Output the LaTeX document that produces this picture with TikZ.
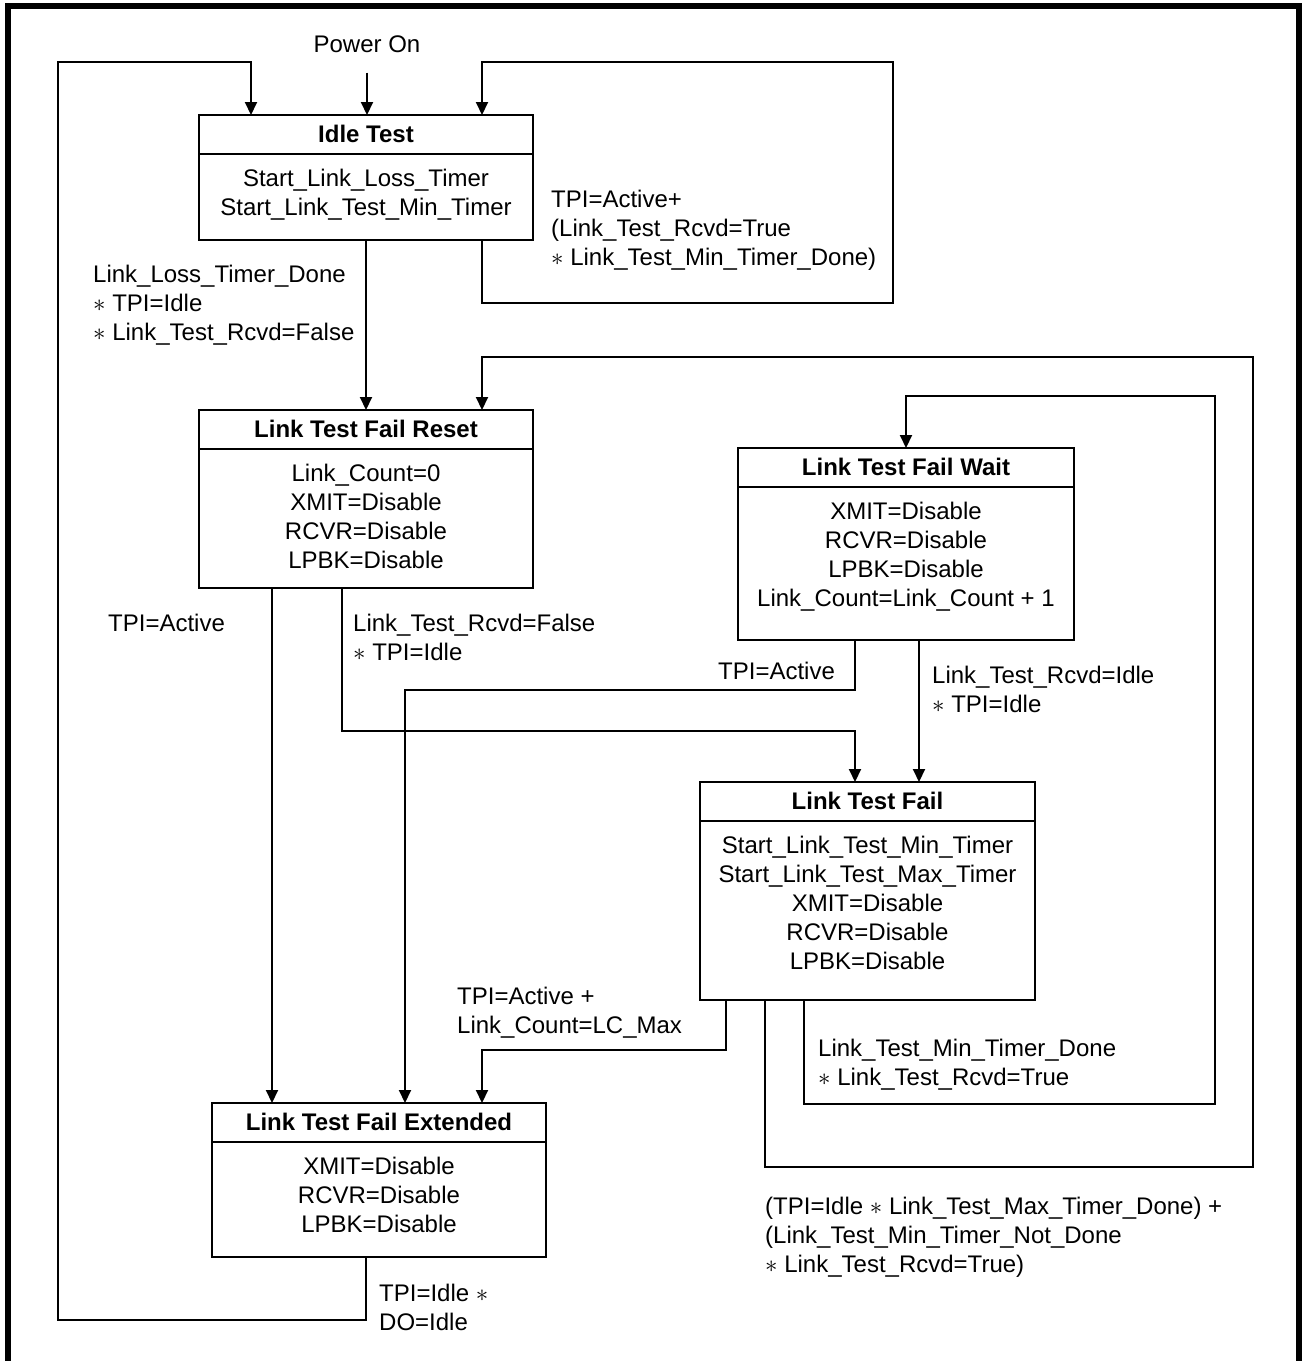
\documentclass[tikz,border=0pt]{standalone}
\usepackage{fontspec}
\setmainfont{Liberation Sans}
\usetikzlibrary{arrows.meta}

\begin{document}
\begin{tikzpicture}[x=1pt, y=-1pt,
    every node/.style={inner sep=0pt, font=\fontsize{24}{29}\selectfont},
    statebox/.style={draw, line width=2pt, outer sep=0pt, anchor=north west},
    titletxt/.style={font=\fontsize{24}{29}\selectfont\bfseries},
    bodytxt/.style={align=center, anchor=north},
    cond/.style={align=left, anchor=north west},
    wire/.style={line width=2pt},
    arrow/.style={wire, -{Triangle[length=13pt, width=12pt]}}]
\useasboundingbox (0,0) rectangle (1303,1361);
% Draw frame
\draw[line width=6pt] (8,1361) -- (8,6) -- (1299,6) -- (1299,1361);
% Draw states
\node[statebox, minimum width=334pt, minimum height=125pt] (idle) at (199,115) {};
\node[statebox, minimum width=334pt, minimum height=178pt] (reset) at (199,410) {};
\node[statebox, minimum width=336pt, minimum height=192pt] (wait) at (738,448) {};
\node[statebox, minimum width=335pt, minimum height=218pt] (fail) at (700,782) {};
\node[statebox, minimum width=334pt, minimum height=154pt] (ext) at (212,1103) {};
\foreach \s/\t in {idle/Idle Test, reset/Link Test Fail Reset, wait/Link Test Fail Wait,
    fail/Link Test Fail, ext/Link Test Fail Extended} {
  \node[titletxt] (\s-title) at ([yshift=-19pt]\s.north) {\t};
  \draw[wire] ([yshift=-39pt]\s.north west) -- ([yshift=-39pt]\s.north east);
}
\node[bodytxt] (idle-body) at ([yshift=-54pt]idle.north)
  {Start\_Link\_Loss\_Timer\\Start\_Link\_Test\_Min\_Timer};
\node[bodytxt] (reset-body) at ([yshift=-54pt]reset.north)
  {Link\_Count=0\\XMIT=Disable\\RCVR=Disable\\LPBK=Disable};
\node[bodytxt] (wait-body) at ([yshift=-54pt]wait.north)
  {XMIT=Disable\\RCVR=Disable\\LPBK=Disable\\Link\_Count=Link\_Count + 1};
\node[bodytxt] (fail-body) at ([yshift=-54pt]fail.north)
  {Start\_Link\_Test\_Min\_Timer\\Start\_Link\_Test\_Max\_Timer\\XMIT=Disable\\RCVR=Disable\\LPBK=Disable};
\node[bodytxt] (ext-body) at ([yshift=-54pt]ext.north)
  {XMIT=Disable\\RCVR=Disable\\LPBK=Disable};
% Power on
\node (power) at (367,44) {Power On};
\draw[arrow] ([yshift=-20pt]power.south) -- (power.south |- idle.north);
% Idle Test -> Link Test Fail Reset
\draw[arrow] (idle.south) -- (reset.north);
\node[cond] (c1) at (93,265) {Link\_Loss\_Timer\_Done\\$\ast$ TPI=Idle\\$\ast$ Link\_Test\_Rcvd=False};
% Idle Test -> Idle Test
\coordinate (loopA) at (893,303);
\coordinate (loopB) at (893,62);
\draw[arrow] ([xshift=116pt]idle.south) |- (loopA) -- (loopB) -| ([xshift=116pt]idle.north);
\node[cond] (c2) at (551,190) {TPI=Active+\\(Link\_Test\_Rcvd=True\\$\ast$ Link\_Test\_Min\_Timer\_Done)};
% Link Test Fail Extended -> Idle Test
\coordinate (loopC) at (58,1320);
\coordinate (loopD) at (58,62);
\draw[arrow] ([xshift=-13pt]ext.south) |- (loopC) -- (loopD) -| ([xshift=-115pt]idle.north);
\node[cond] (c3) at (379,1284) {TPI=Idle $\ast$\\DO=Idle};
% Link Test Fail Reset -> Link Test Fail Extended
\draw[arrow] ([xshift=-94pt]reset.south) -- ([xshift=-94pt]reset.south |- ext.north);
\node[cond] (c4) at (108,614) {TPI=Active};
% Link Test Fail Reset -> Link Test Fail
\draw[arrow] ([xshift=-24pt]reset.south) -- ++(0,143) -| ([xshift=-12.5pt]fail.north);
\node[cond] (c5) at (353,614) {Link\_Test\_Rcvd=False\\$\ast$ TPI=Idle};
% Link Test Fail Wait -> Link Test Fail Extended
\draw[arrow] ([xshift=-51pt]wait.south) -- ++(0,50) -| ([xshift=26pt]ext.north);
\node[cond] (c6) at (718,662) {TPI=Active};
% Link Test Fail Wait -> Link Test Fail
\draw[arrow] ([xshift=13pt]wait.south) -- ([xshift=13pt]wait.south |- fail.north);
\node[cond] (c7) at (932,666) {Link\_Test\_Rcvd=Idle\\$\ast$ TPI=Idle};
% Link Test Fail -> Link Test Fail Extended
\draw[arrow] ([xshift=-141.5pt]fail.south) -- ++(0,50) -| ([xshift=103pt]ext.north);
\node[cond] (c8) at (457,987) {TPI=Active +\\Link\_Count=LC\_Max};
% Link Test Fail -> Link Test Fail Wait
\coordinate (loopE) at (1215,1104);
\coordinate (loopF) at (1215,396);
\draw[arrow] ([xshift=-63.5pt]fail.south) |- (loopE) -- (loopF) -| (wait.north);
\node[cond] (c9) at (818,1039) {Link\_Test\_Min\_Timer\_Done\\$\ast$ Link\_Test\_Rcvd=True};
% Link Test Fail -> Link Test Fail Reset
\coordinate (loopG) at (1253,1167);
\coordinate (loopH) at (1253,357);
\draw[arrow] ([xshift=-102.5pt]fail.south) |- (loopG) -- (loopH) -| ([xshift=116pt]reset.north);
\node[cond] (c10) at (765,1197) {(TPI=Idle $\ast$ Link\_Test\_Max\_Timer\_Done) +\\(Link\_Test\_Min\_Timer\_Not\_Done\\$\ast$ Link\_Test\_Rcvd=True)};
\end{tikzpicture}
\end{document}
